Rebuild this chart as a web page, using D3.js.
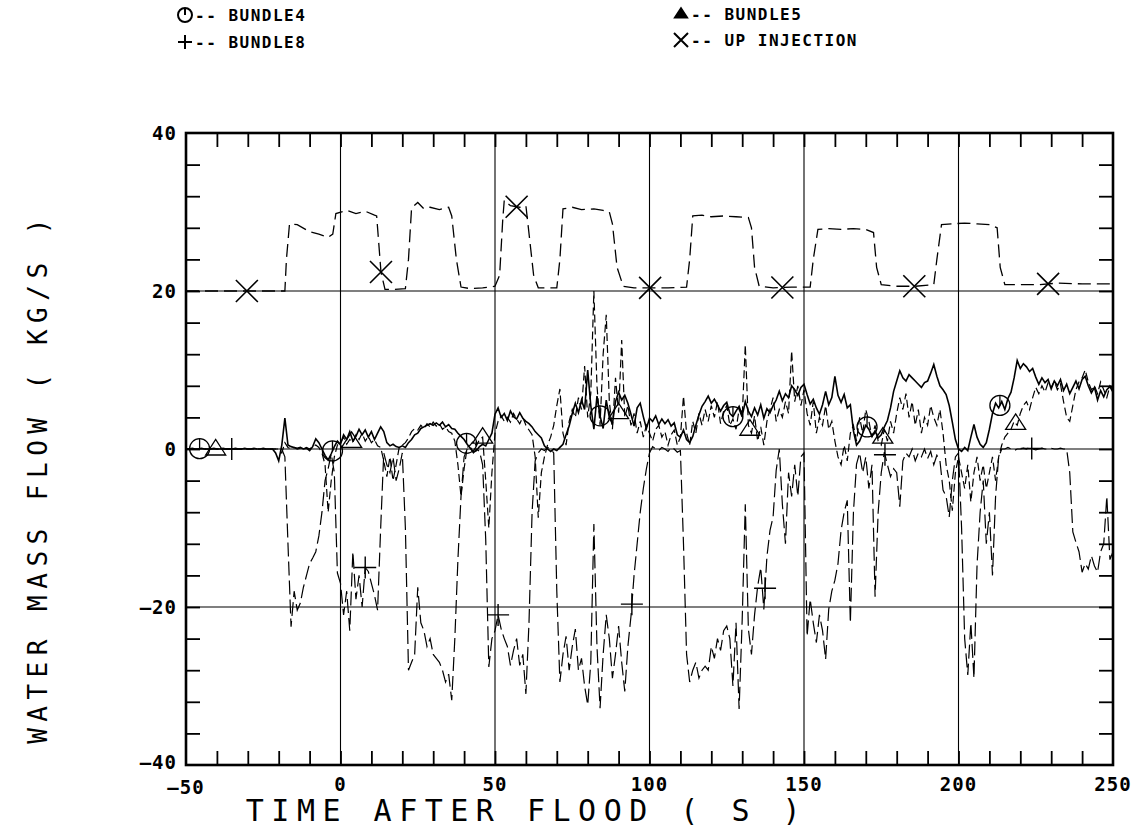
<!DOCTYPE html>
<html><head><meta charset="utf-8">
<script src="https://cdn.jsdelivr.net/npm/d3@7"></script>
<style>body{margin:0;background:#fff}svg{display:block}</style>
</head><body><svg id="c" width="1137" height="838"></svg>
<script>
// ---------------- DATA ----------------
const sampleStart = -50;   // time (s) of first sample, 1 s apart
const bundle4 = [
 0,0,0.1,0,0,0.1,0,0,0,0.1,
 0,0,0.1,0,0,0,0.1,0,0,0.1,
 0,0,0.1,0,0,0.1,0,0,0,-0.5,
 -1.5,0.5,3.9,0.5,0.3,0.2,0.1,0.2,0,0.1,
 -0.2,0.3,1.3,0.8,0,-0.8,-1.4,-0.6,0.3,1.0,
 0.6,1.8,1.2,2.2,1.0,1.6,2.5,1.8,2.4,1.5,
 2.2,1.2,2.0,2.8,2.2,0.8,0.4,0.6,0.3,0.2,
 0.4,0.2,0.8,1.2,1.8,2.0,2.6,2.8,3.0,3.2,
 3.0,3.3,3.0,3.4,2.8,3.1,2.6,2.5,2.0,1.6,
 1.2,0.6,0.1,-0.4,-0.2,0.3,0.6,0.4,1.2,2.0,
 4.4,5.2,4.0,4.5,3.6,4.8,4.1,3.8,4.6,3.9,
 3.5,3.2,2.8,2.2,1.8,1.4,0.4,0.0,-0.3,0.0,
 -0.2,0.2,0.6,1.8,2.9,4.5,5.8,4.6,6.2,5.0,
 10.0,5.5,2.5,6.7,4.2,2.6,6.2,4.0,3.2,6.0,
 7.2,6.2,6.8,5.8,4.4,2.9,5.2,5.8,4.1,2.6,
 3.9,3.5,4.2,3.1,3.8,3.2,3.7,2.9,3.3,1.8,
 1.5,2.4,1.2,0.8,1.6,3.0,4.3,5.4,6.0,6.7,
 5.8,6.3,5.6,4.8,5.5,5.9,4.5,4.1,4.8,5.4,
 4.2,6.0,4.8,4.1,5.2,4.3,5.6,3.9,5.1,4.6,
 5.5,6.2,7.3,6.1,7.0,6.5,8.0,7.5,6.8,7.8,
 8.2,6.9,5.7,6.3,5.2,4.4,5.6,7.3,5.6,6.5,
 9.2,6.8,5.9,6.9,5.2,5.6,2.3,0.5,1.0,2.0,
 3.0,2.5,1.6,2.3,1.4,1.8,2.8,3.6,5.2,7.3,
 8.6,9.9,9.0,8.6,9.4,9.0,8.6,8.2,7.8,8.4,
 8.6,9.6,10.7,9.2,8.0,7.5,6.9,5.5,3.4,1.2,
 0.0,-0.3,0.2,-0.2,1.5,3.1,1.5,0.6,0.2,0.8,
 2.5,4.5,5.8,5.2,6.0,5.0,6.4,7.2,9.0,11.2,
 10.2,10.8,10.4,9.8,10.2,9.1,8.2,9.0,8.4,8.8,
 7.6,8.6,8.0,8.8,7.4,8.2,7.0,7.8,8.6,7.6,
 8.8,9.2,8.0,7.1,7.8,6.2,7.4,6.6,7.5,7.9,
 7.2
];
const bundle5 = [
 0,0,0,0,0,0,0,0,0,0,
 0,0,0,0,0,0,0,0,0,0,
 0,0,0,0,0,0,0,0,0,0,
 0,-0.5,0.8,0.2,0,0.2,0,0.1,0,0.2,
 0,0.3,0.5,0.2,-0.5,-2,-8,-4,-1,0.5,
 0.8,1.5,0.6,1.2,0.8,1.8,1.2,2.0,1.0,1.6,
 0.8,1.2,0.4,0.2,-1.5,-3.5,-1.0,-4.0,-2.0,0.2,
 0.5,0.8,1.4,2.2,2.6,2.4,3.0,2.6,3.2,2.8,
 3.4,2.9,3.2,2.5,2.8,2.2,2.0,1.0,-2,-6,
 -2.5,0.2,0.5,1.0,0.4,1.2,1.5,-4,-10,-3,
 2.0,3.5,4.2,3.5,4.0,3.4,4.5,3.8,3.2,4.0,
 3.0,2.4,1.8,-1,-8.7,-3,-1,0.5,1.5,3.0,
 5.5,7.6,2.0,0.5,3.5,5.0,4.0,6.5,5.0,10.5,
 4.0,7.0,20.0,8.0,3.0,12.0,17.0,6.0,2.5,9.0,
 4.6,13.8,4.0,5.5,3.0,4.5,2.0,3.5,1.5,3.0,
 2.0,1.0,2.5,3.0,1.5,2.2,0.5,1.8,2.4,0.5,
 1.5,6.7,2.0,0.5,3.5,2.0,4.5,3.0,5.0,3.5,
 5.5,4.0,6.0,3.2,4.8,5.5,3.0,3.8,2.5,5.0,
 4.0,13.2,3.0,2.0,4.2,1.0,2.8,0.5,3.5,5.0,
 6.5,3.5,5.0,4.0,6.0,4.5,12.4,6.0,8.0,5.5,
 7.5,4.5,3.0,6.0,2.0,4.0,3.0,5.5,2.5,3.5,
 1.0,-1.0,-2.0,0.5,-1.5,2.0,3.0,1.0,4.0,2.0,
 5.0,3.5,1.5,3.0,1.0,0.5,2.5,1.0,3.5,2.0,
 4.5,6.5,5.0,7.0,4.0,6.0,3.0,5.0,2.0,4.0,
 3.0,5.5,4.0,3.0,5.0,2.0,-2.0,-4.0,-7.8,-3.0,
 -1.0,-3.0,-5.0,-2.0,-6.7,-3.0,-1.0,-4.0,-2.0,-5.0,
 -3.0,-1.0,-4.0,-1.0,0.5,1.5,2.0,2.5,3.5,3.0,
 4.5,5.5,6.0,5.0,6.5,7.8,7.0,8.0,7.2,8.4,
 7.8,8.6,7.5,8.2,6.0,4.0,3.5,5.5,7.5,8.5,
 9.0,10.0,8.5,7.5,8.0,7.0,8.5,7.5,6.5,8.0,
 7.5
];
const bundle8 = [
 0,0,0,0,0,0,0,0,0,0,
 0,0,0,0,0,0,0,0,0,0,
 0,0,0,0,0,0,0,0,0,0,
 0,0,-1,-12,-22.5,-18,-20.4,-19.5,-17.5,-16,
 -14.5,-13.8,-13,-11,-8,-4,-2.5,-0.6,-3,-15.7,
 -17,-21,-18,-23,-13,-19,-16,-20,-15,-15.5,
 -17,-18.5,-20.4,-10,-0.5,-2,-3,-1,-4,-2.5,
 -0.5,-10,-28,-27,-26,-17.5,-22,-23,-25,-24,
 -26,-26.5,-27,-28,-29.5,-28.5,-31.8,-24,-14,-6,
 -1,0,0.3,-0.5,0,-0.3,-2,-11.5,-27.6,-24,
 -23,-21,-22.8,-24,-25,-27.4,-25.5,-24,-27.4,-26,
 -31,-22,-8,-1.5,-0.5,0,-0.2,0.2,0,-0.5,
 -18,-29.5,-26,-23.7,-28,-25,-22.8,-28,-26.5,-30,
 -32.4,-27,-9.5,-25,-32.8,-26,-21,-24,-29,-26,
 -22.4,-27,-30.7,-25,-21.2,-16,-12,-8,-5,-2.5,
 -0.5,0.3,0,-0.2,0.2,0,-0.3,0.2,0,-0.4,
 -0.2,-12,-26,-29.5,-28,-27,-29,-28,-27.5,-28,
 -25,-26.5,-24,-25.5,-23,-22.4,-24,-30,-22,-32.9,
 -21.6,-7,-22.8,-26,-21,-17.4,-15,-20.3,-13.6,-10.3,
 -8.6,-2.7,0,-7,-12,-3,-6,-2,-6,-1,
 -0.5,-23.7,-19,-22,-24.5,-21,-23,-26.6,-20.3,-18,
 -16.6,-14.5,-10.3,-8,-6.5,-22,-8,-1.9,-0.5,-3,
 -1,-5,-2,-18.7,-8,-3,-0.4,-2,-3.5,-2.5,
 -3,-7.3,-1.5,-0.5,-1,0,-1.5,-0.5,-1,0,
 -1.2,-0.3,-2,-0.8,-1.5,-5.2,-6,-8.6,-4,-1,
 -0.5,-10,-24,-28.6,-22,-29,-14.7,-8,-4,-12,
 -8,-16,-6,-1,0,0,0.2,0,-0.2,0,
 0,0.1,0,0.2,0,-0.1,0,0.1,0,0,
 0.1,0,0,0.1,0,0,-3,-10.5,-11.8,-13,
 -15.6,-14.5,-15.2,-13.5,-14.8,-15.6,-13,-12,-6,-14,
 -13
];
const injT = [-50,-18,-17.5,-16.5,-14,-10,-7,-4,-2.5,-1.5,2,5,8,11,11.7,13.1,14.4,17,21,22,23,25,27,29,32,35,36,37.5,39,42,46,50,51.5,52.5,53,55,58,60,60.8,62.5,64,70,71,72,75,78,82,85,87,88,89.5,91.5,95,100,106,112,113,114,117,120,124,128,132,133,134,135.5,140,146,152,153,154.5,158,162,166,170,172.5,173.5,175,180,186,192,193,194.5,198,202,206,210,212.5,213.5,215,220,226,232,240,250];
const injV = [20.0,20.0,24,28.5,28.4,27.5,27.2,26.8,27.2,29.8,30.2,29.8,30.1,29.6,29.5,22.4,20.2,20.2,20.3,24,30.5,31.2,30.4,30.6,30.3,30.6,29.5,24,20.5,20.3,20.4,20.6,22,29,31.5,30.8,30.6,30.8,28,22,20.4,20.4,24,30.4,30.6,30.3,30.4,30.2,30.0,28.5,23,20.6,20.4,20.4,20.4,20.5,24,29.5,29.6,29.4,29.5,29.4,29.3,28,23,20.6,20.4,20.5,20.5,24,27.8,27.9,27.8,27.9,27.8,27.4,23,20.8,20.6,20.6,20.8,24,28.4,28.5,28.6,28.5,28.4,28.0,23,20.8,20.8,20.8,21,20.9,20.9];
// marker times (s) along each curve
const mark4 = [-45.6,-2.6,40.8,84,127,170.4,213.4];
const mark5 = [-40.4,3.6,46,90,132.5,175.5,218.5];
const mark8 = [-35.2,8,51,94.3,137.4,176.2,223.7];
const markInj = [-30.3,13.1,57,100.2,143,185.7,229];
const xTickLabels = [-50,0,50,100,150,200,250];
const yTickLabels = [-40,-20,0,20,40];
const xGrid = [0,50,100,150,200];
const yGrid = [-20,0,20];
const legendNames = ["BUNDLE4","BUNDLE8","BUNDLE5","UP INJECTION"];

// ---------------- DRAW ----------------
const svg = d3.select("#c");
svg.append("rect").attr("width",1137).attr("height",838).attr("fill","#fff");
const L=186,R=1113,T=133,B=765;
const x = d3.scaleLinear().domain([-50,250]).range([L,R]);
const y = d3.scaleLinear().domain([-40,40]).range([B,T]);

svg.append("defs").append("clipPath").attr("id","clip")
  .append("rect").attr("x",L).attr("y",T).attr("width",R-L).attr("height",B-T);

// grid
const g = svg.append("g").attr("stroke","#000").attr("stroke-width",1.1);
g.selectAll(".gx").data(xGrid).join("line").attr("x1",d=>x(d)).attr("x2",d=>x(d)).attr("y1",T).attr("y2",B);
g.selectAll(".gy").data(yGrid).join("line").attr("y1",d=>y(d)).attr("y2",d=>y(d)).attr("x1",L).attr("x2",R);

// ticks (inward) via d3 axes
const minorX = d3.range(-40,250,10), minorY = d3.range(-36,40,4);
const tk = 14;
function styleAxis(sel){ sel.select(".domain").remove(); sel.selectAll("line").attr("stroke","#000").attr("stroke-width",1.8); sel.selectAll("text").remove(); }
svg.append("g").attr("transform",`translate(0,${B})`).call(d3.axisBottom(x).tickValues(minorX).tickSize(-tk)).call(styleAxis);
svg.append("g").attr("transform",`translate(0,${T})`).call(d3.axisTop(x).tickValues(minorX).tickSize(-tk)).call(styleAxis);
svg.append("g").attr("transform",`translate(${L},0)`).call(d3.axisLeft(y).tickValues(minorY).tickSize(-tk)).call(styleAxis);
svg.append("g").attr("transform",`translate(${R},0)`).call(d3.axisRight(y).tickValues(minorY).tickSize(-tk)).call(styleAxis);

// series
const toPts = arr => arr.map((v,i)=>[sampleStart+i, v]);
const s4 = toPts(bundle4), s5 = toPts(bundle5), s8 = toPts(bundle8);
const sInj = injT.map((t,i)=>[t,injV[i]]);
const line = d3.line().x(d=>x(d[0])).y(d=>y(d[1]));
const plot = svg.append("g").attr("clip-path","url(#clip)").attr("fill","none").attr("stroke","#000");
plot.append("path").attr("d",line(s8)).attr("stroke-width",1.2).attr("stroke-dasharray","14,5");
plot.append("path").attr("d",line(s5)).attr("stroke-width",1.2).attr("stroke-dasharray","8,4");
plot.append("path").attr("d",line(s4)).attr("stroke-width",1.6);
plot.append("path").attr("d",line(sInj)).attr("stroke-width",1.3).attr("stroke-dasharray","13,6");

// markers
const bis = d3.bisector(d=>d[0]).left;
function valAt(pts,t){ const i=Math.max(1,Math.min(pts.length-1,bis(pts,t))); const a=pts[i-1],b=pts[i]; return a[1]+(b[1]-a[1])*(t-a[0])/(b[0]-a[0]); }
const sym = {
  circle:(s,r)=>{ s.append("circle").attr("r",r); s.append("line").attr("x1",0).attr("x2",0).attr("y1",-r).attr("y2",0); },
  tri:(s,r)=>{ s.append("path").attr("d",`M${-r},${r*0.6}L${r},${r*0.6}L0,${-r*0.95}Z`); },
  plus:(s,r)=>{ s.append("path").attr("d",`M${-r},0H${r}M0,${-r}V${r}`); },
  cross:(s,r)=>{ s.append("path").attr("d",`M${-r},${-r}L${r},${r}M${-r},${r}L${r},${-r}`); }
};
function drawMarks(times, pts, kind, r, sw){
  times.forEach(t=>{
    const gm = plot.append("g").attr("transform",`translate(${x(t)},${y(valAt(pts,t))})`).attr("stroke-width",sw);
    sym[kind](gm,r);
  });
}
drawMarks(mark4,s4,"circle",10,1.3);
drawMarks(mark5,s5,"tri",10,1.3);
drawMarks(mark8,s8,"plus",11,1.4);
drawMarks(markInj,sInj,"cross",11,1.6);

// frame
svg.append("rect").attr("x",L).attr("y",T).attr("width",R-L).attr("height",B-T)
  .attr("fill","none").attr("stroke","#000").attr("stroke-width",2.6);

// tick labels
const xl = svg.append("g").attr("font-family","DejaVu Sans Mono").attr("font-weight","bold").attr("font-size","19px").attr("letter-spacing","1px");
xl.selectAll("text").data(xTickLabels).join("text")
  .attr("x",d=>x(d)).attr("y",d=>d===-50?794:791).attr("text-anchor","middle").text(d=>String(d).replace("-","\u2013"));
const yl = svg.append("g").attr("font-family","DejaVu Sans Mono").attr("font-weight","bold").attr("font-size","19px").attr("letter-spacing","1px");
yl.selectAll("text").data(yTickLabels).join("text")
  .attr("x",177).attr("y",d=>y(d)+(d===-40?4:7)).attr("text-anchor","end").text(d=>String(d).replace("-","\u2013"));

// axis titles
svg.append("text").attr("x",527).attr("y",821).attr("text-anchor","middle")
  .attr("font-family","DejaVu Sans Mono").attr("font-size","30px").attr("letter-spacing","7.5px")
  .text("TIME AFTER FLOOD ( S )");
svg.append("text").attr("transform","translate(47,478) rotate(-90)").attr("text-anchor","middle")
  .attr("font-family","DejaVu Sans Mono").attr("font-size","26px").attr("letter-spacing","6.5px")
  .text("WATER MASS FLOW ( KG/S )");

// legend
const leg = [
  {k:"circle", x:185, y:15, name:legendNames[0]},
  {k:"plus",   x:185, y:42, name:legendNames[1]},
  {k:"tri",    x:681, y:14, name:legendNames[2]},
  {k:"cross",  x:681, y:40, name:legendNames[3]}
];
leg.forEach(d=>{
  const gl = svg.append("g").attr("transform",`translate(${d.x},${d.y})`).attr("fill","none").attr("stroke","#000").attr("stroke-width",2);
  if(d.k==="tri"){ gl.attr("fill","#000"); sym.tri(gl,6); } else sym[d.k](gl,7);
  svg.append("text").attr("x",d.x+10).attr("y",d.y+6).attr("font-family","DejaVu Sans Mono").attr("font-weight","bold")
    .attr("font-size","16px").attr("letter-spacing","1.5px").text("-- "+d.name);
});
</script></body></html>
